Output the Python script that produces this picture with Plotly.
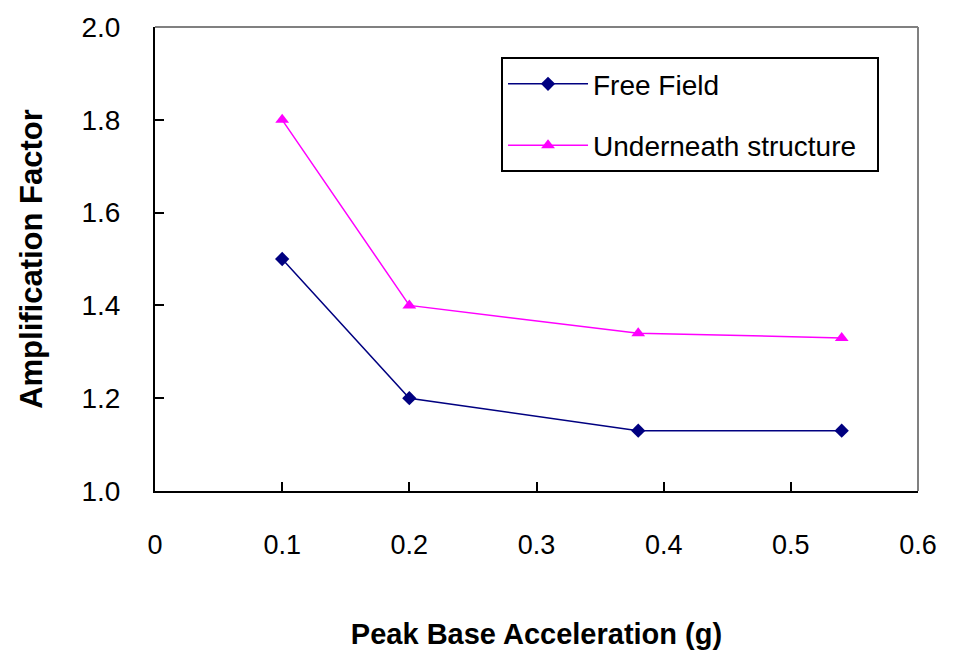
import plotly.graph_objects as go

# Data
pga = [0.1, 0.2, 0.38, 0.54]
free_field = [1.50, 1.20, 1.13, 1.13]
underneath = [1.80, 1.40, 1.34, 1.33]

x_tickvals = [0, 0.1, 0.2, 0.3, 0.4, 0.5, 0.6]
x_ticktext = ["0", "0.1", "0.2", "0.3", "0.4", "0.5", "0.6"]
y_tickvals = [1.0, 1.2, 1.4, 1.6, 1.8, 2.0]
y_ticktext = ["1.0", "1.2", "1.4", "1.6", "1.8", "2.0"]
series_names = ["Free Field", "Underneath structure\u00a0\u00a0"]

FONT = "Liberation Sans, Arial, sans-serif"

fig = go.Figure()
fig.add_trace(go.Scatter(
    x=pga, y=free_field, mode="lines+markers", name=series_names[0],
    legendgroup="a",
    line=dict(color="#000080", width=1.5),
    marker=dict(symbol="diamond", size=11, color="#000080"),
))
fig.add_trace(go.Scatter(
    x=pga, y=underneath, mode="lines+markers", name=series_names[1],
    legendgroup="b",
    line=dict(color="#FF00FF", width=1.5),
    marker=dict(symbol="triangle-up", size=12, color="#FF00FF"),
))

fig.update_layout(
    width=956, height=655,
    margin=dict(l=155, r=38, t=27, b=164, autoexpand=False),
    paper_bgcolor="white", plot_bgcolor="white",
    font=dict(family=FONT, color="black"),
    showlegend=True,
    legend=dict(
        x=0.4535, y=0.935, xanchor="left", yanchor="top",
        bgcolor="white", bordercolor="black", borderwidth=2,
        font=dict(size=28, family=FONT, color="black"),
        traceorder="grouped", tracegroupgap=22,
        itemwidth=80,
    ),
    xaxis=dict(
        range=[0, 0.6], tickvals=x_tickvals, ticktext=x_ticktext,
        showgrid=False, zeroline=False,
        showline=True, linecolor="black", linewidth=2,
        ticks="inside", ticklen=9, tickwidth=1.5, tickcolor="black",
        tickfont=dict(size=27, family=FONT, color="black"),
        ticklabelstandoff=29,
        title=dict(text="<b>Peak Base Acceleration (g)</b>",
                   font=dict(size=29, family=FONT, color="black"),
                   standoff=64),
        automargin=False,
    ),
    yaxis=dict(
        range=[1.0, 2.0], tickvals=y_tickvals, ticktext=y_ticktext,
        showgrid=False, zeroline=False,
        showline=True, linecolor="black", linewidth=2,
        ticks="inside", ticklen=9, tickwidth=1.5, tickcolor="black",
        tickfont=dict(size=28, family=FONT, color="black"),
        ticklabelstandoff=27,
        title=dict(text="<b>Amplification Factor</b>",
                   font=dict(size=31, family=FONT, color="black"),
                   standoff=30),
        automargin=False,
    ),
    shapes=[
        dict(type="line", xref="paper", yref="paper", x0=0, x1=1, y0=1, y1=1,
             line=dict(color="#808080", width=2)),
        dict(type="line", xref="paper", yref="paper", x0=1, x1=1, y0=0, y1=1,
             line=dict(color="#808080", width=2)),
    ],
)

fig.write_html("out.html")
